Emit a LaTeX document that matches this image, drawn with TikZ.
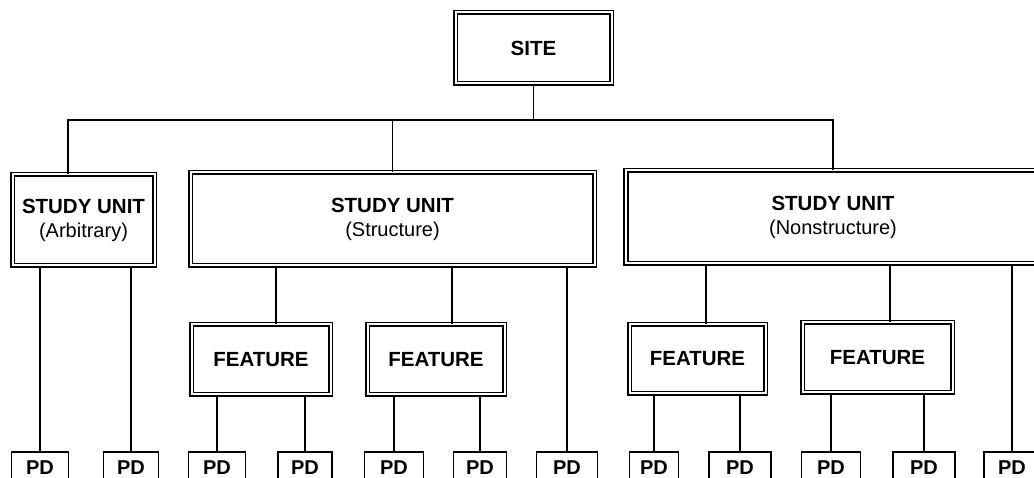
\documentclass[tikz,border=0pt]{standalone}
\usepackage{fontspec}
\setmainfont{Liberation Sans}
\begin{document}
\begin{tikzpicture}[x=1pt,y=-1pt,
  dbox/.style={draw, double, double distance=2pt, line width=1.6pt, inner sep=0pt,
    align=center, font=\fontsize{20.5}{24}\selectfont\bfseries},
  pdbox/.style={draw, line width=1.6pt, inner sep=0pt, minimum height=32pt,
    font=\fontsize{20}{24}\selectfont\bfseries},
  conn/.style={line width=1.8pt}]
\clip (0,0) rectangle (1034,478);
\fill[white] (0,0) rectangle (1034,478);
% top
\node[dbox, minimum width=156pt, minimum height=71pt] (site) at (533.5,48) {SITE};
% study units
\node[dbox, minimum width=142pt, minimum height=91pt] (su1) at (83.5,220) {STUDY UNIT\\{\fontsize{20}{24}\selectfont\mdseries (Arbitrary)}};
\node[dbox, minimum width=404pt, minimum height=93pt] (su2) at (392.5,219) {STUDY UNIT\\{\fontsize{20}{24}\selectfont\mdseries (Structure)}};
\node[dbox, minimum width=414pt, minimum height=93pt] (su3) at (833,217) {STUDY UNIT\\{\fontsize{20}{24}\selectfont\mdseries (Nonstructure)}};
% features
\node[dbox, minimum width=139pt, minimum height=70pt] (f1) at (261,359.5) {FEATURE};
\node[dbox, minimum width=137pt, minimum height=70pt] (f2) at (436,359.5) {FEATURE};
\node[dbox, minimum width=136pt, minimum height=69pt] (f3) at (697.5,359) {FEATURE};
\node[dbox, minimum width=150pt, minimum height=70pt] (f4) at (877.5,357.5) {FEATURE};
% PD boxes
\node[pdbox, minimum width=57pt] (pd1) at (40,468) {PD};
\node[pdbox, minimum width=55pt] (pd2) at (131,468) {PD};
\node[pdbox, minimum width=57pt] (pd3) at (217,468) {PD};
\node[pdbox, minimum width=54pt] (pd4) at (305,468) {PD};
\node[pdbox, minimum width=59pt] (pd5) at (394,468) {PD};
\node[pdbox, minimum width=53pt] (pd6) at (480,468) {PD};
\node[pdbox, minimum width=61pt] (pd7) at (567,468) {PD};
\node[pdbox, minimum width=49pt] (pd8) at (654,468) {PD};
\node[pdbox, minimum width=62pt] (pd9) at (740,468) {PD};
\node[pdbox, minimum width=59pt] (pd10) at (831,468) {PD};
\node[pdbox, minimum width=62pt] (pd11) at (924,468) {PD};
\node[pdbox, minimum width=56pt] (pd12) at (1012,468) {PD};
% bus
\coordinate (bus) at (0,120);
\draw[conn] (site.south) -- (site.south |- bus);
\draw[conn] ([xshift=-15.5pt]su1.north) |- (su3.north |- bus) -- (su3.north);
\draw[conn] (su2.north) -- (su2.north |- bus);
% study unit to features
\draw[conn] ([xshift=15pt]f1.north) -- ([xshift=15pt]f1.north |- su2.south);
\draw[conn] ([xshift=16pt]f2.north) -- ([xshift=16pt]f2.north |- su2.south);
\draw[conn] ([xshift=8.5pt]f3.north) -- ([xshift=8.5pt]f3.north |- su3.south);
\draw[conn] ([xshift=12.5pt]f4.north) -- ([xshift=12.5pt]f4.north |- su3.south);
% to PD
\draw[conn] (pd1.north) -- (pd1.north |- su1.south);
\draw[conn] (pd2.north) -- (pd2.north |- su1.south);
\draw[conn] (pd3.north) -- (pd3.north |- f1.south);
\draw[conn] (pd4.north) -- (pd4.north |- f1.south);
\draw[conn] (pd5.north) -- (pd5.north |- f2.south);
\draw[conn] (pd6.north) -- (pd6.north |- f2.south);
\draw[conn] (pd7.north) -- (pd7.north |- su2.south);
\draw[conn] (pd8.north) -- (pd8.north |- f3.south);
\draw[conn] (pd9.north) -- (pd9.north |- f3.south);
\draw[conn] (pd10.north) -- (pd10.north |- f4.south);
\draw[conn] (pd11.north) -- (pd11.north |- f4.south);
\draw[conn] (pd12.north) -- (pd12.north |- su3.south);
\end{tikzpicture}
\end{document}
